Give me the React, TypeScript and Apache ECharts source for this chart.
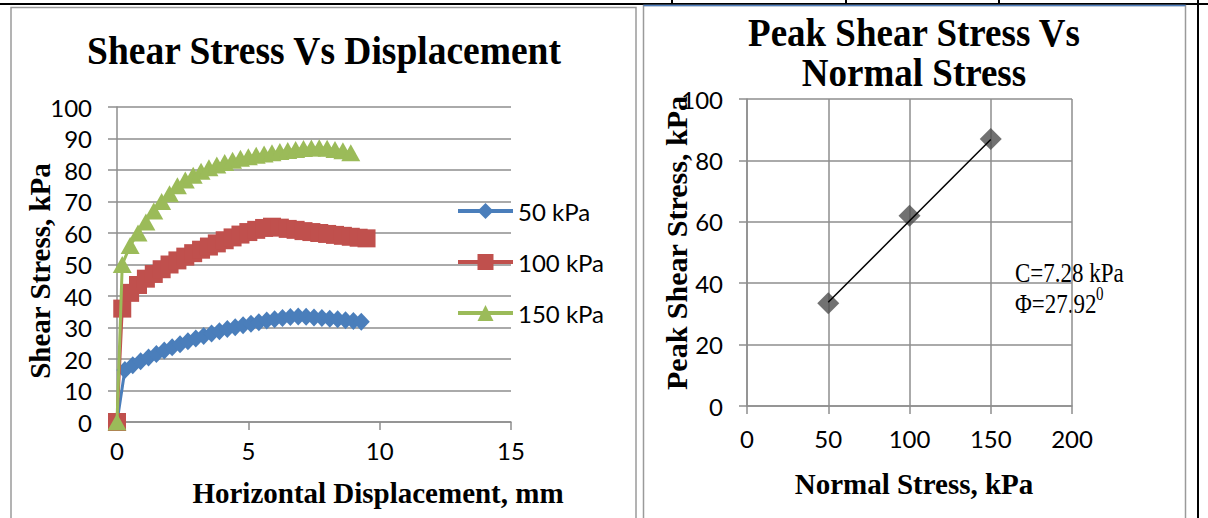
import React, { useEffect, useRef } from "react";
import * as echarts from "echarts";

// ---- Left chart: shear stress vs horizontal displacement ----
const seriesNames = ["50 kPa", "100 kPa", "150 kPa"];

const disp50 = [0, 0.3, 0.6, 0.9, 1.2, 1.5, 1.8, 2.1, 2.4, 2.7, 3.0, 3.3, 3.6, 3.9, 4.2, 4.5, 4.8, 5.1, 5.4, 5.7, 6.0, 6.3, 6.6, 6.9, 7.2, 7.5, 7.8, 8.1, 8.4, 8.7, 9.0, 9.3];
const shear50 = [0, 16.5, 18, 19.3, 20.5, 21.6, 22.7, 23.7, 24.7, 25.6, 26.5, 27.3, 28.1, 28.8, 29.5, 30.1, 30.7, 31.2, 31.7, 32.2, 32.6, 33.0, 33.3, 33.5, 33.4, 33.2, 33.0, 32.8, 32.6, 32.3, 32.1, 31.8];

const disp100 = [0, 0.2, 0.5, 0.8, 1.1, 1.4, 1.7, 2.0, 2.3, 2.6, 2.9, 3.2, 3.5, 3.8, 4.1, 4.4, 4.7, 5.0, 5.3, 5.6, 5.9, 6.2, 6.5, 6.8, 7.1, 7.4, 7.7, 8.0, 8.3, 8.6, 8.9, 9.2, 9.5];
const shear100 = [0, 36, 41, 43.5, 45.5, 47, 48.5, 50, 51.3, 52.5, 53.6, 54.7, 55.7, 56.7, 57.7, 58.6, 59.5, 60.3, 61, 61.6, 62, 61.7, 61.3, 61, 60.6, 60.3, 60, 59.7, 59.4, 59.1, 58.8, 58.5, 58.3];

const disp150 = [0, 0.2, 0.5, 0.8, 1.1, 1.4, 1.7, 2.0, 2.3, 2.6, 2.9, 3.2, 3.5, 3.8, 4.1, 4.4, 4.7, 5.0, 5.3, 5.6, 5.9, 6.2, 6.5, 6.8, 7.1, 7.4, 7.7, 8.0, 8.3, 8.6, 8.9];
const shear150 = [0, 50, 56, 60, 63.5, 67, 70, 72.5, 75, 76.8, 78.3, 79.6, 80.7, 81.6, 82.4, 83.1, 83.7, 84.2, 84.7, 85.1, 85.5, 85.9, 86.2, 86.5, 86.8, 87, 87.1, 86.9, 86.5, 86.1, 85.5];

// ---- Right chart: peak shear stress vs normal stress ----
const normalStress = [50, 100, 150];
const peakShear = [33.5, 62, 87];
const trendNormal = [50, 150];
const trendShear = [33.8, 86.8];

const leftTitle = "Shear Stress Vs Displacement";
const leftXTitle = "Horizontal Displacement, mm";
const leftYTitle = "Shear Stress, kPa";
const rightTitle1 = "Peak Shear Stress Vs";
const rightTitle2 = "Normal Stress";
const rightXTitle = "Normal Stress, kPa";
const rightYTitle = "Peak Shear Stress, kPa";
const cohesionText = "C=7.28 kPa";
const phiText = "Φ=27.92";
const phiSup = "0";

export default function App() {
  const ref = useRef<HTMLDivElement>(null);

  useEffect(() => {
    const chart = echarts.init(ref.current!, null, { renderer: "svg" });
    const zip = (xs: number[], ys: number[]) => xs.map((x, i) => [x, ys[i]]);
    const gridColor = "#8e8e8e";
    const serif = "Liberation Serif";
    const tickFont = { fontFamily: "Lato", fontSize: 24, color: "#000" };
    const axisCommon = {
      axisLine: { show: true, lineStyle: { color: gridColor, width: 1.5 } },
      axisTick: { show: true, length: 8, lineStyle: { color: gridColor, width: 1.5 } },
    };
    const titleText = (text: string, x: number, y: number, size: number, bold: boolean, rotation = 0, align = "center", scaleY = 1) => ({
      type: "text",
      x,
      y,
      rotation,
      scaleY,
      silent: true,
      style: {
        text,
        fill: "#000",
        fontFamily: serif,
        fontSize: size,
        fontWeight: bold ? "bold" : "normal",
        align,
        verticalAlign: "middle",
      },
    });

    const option: any = {
      animation: false,
      backgroundColor: "#fff",
      grid: [
        { left: 117, top: 107, width: 394, height: 315 },
        { left: 747, top: 99, width: 325, height: 307 },
      ],
      xAxis: [
        {
          type: "value", gridIndex: 0, min: 0, max: 15, interval: 5,
          ...axisCommon,
          splitLine: { show: false },
          axisLabel: { ...tickFont, margin: 16 },
        },
        {
          type: "value", gridIndex: 1, min: 0, max: 200, interval: 50,
          ...axisCommon,
          splitLine: { show: true, lineStyle: { color: gridColor, width: 1.5 } },
          axisLabel: { ...tickFont, margin: 20 },
        },
      ],
      yAxis: [
        {
          type: "value", gridIndex: 0, min: 0, max: 100, interval: 10,
          ...axisCommon,
          axisTick: { show: true, length: 9, lineStyle: { color: gridColor, width: 1.5 } },
          splitLine: { show: true, lineStyle: { color: gridColor, width: 1.5 } },
          axisLabel: { ...tickFont, margin: 25 },
        },
        {
          type: "value", gridIndex: 1, min: 0, max: 100, interval: 20,
          ...axisCommon,
          splitLine: { show: true, lineStyle: { color: gridColor, width: 1.5 } },
          axisLabel: { ...tickFont, margin: 24 },
        },
      ],
      legend: {
        orient: "vertical",
        left: 451,
        top: 194,
        itemWidth: 55,
        itemHeight: 20,
        itemGap: 27,
        textStyle: { fontFamily: "Lato", fontSize: 24, color: "#000" },
        lineStyle: { width: 4 },
        data: seriesNames,
        selectedMode: false,
      },
      series: [
        {
          name: seriesNames[0], type: "line", xAxisIndex: 0, yAxisIndex: 0,
          data: zip(disp50, shear50),
          symbol: "diamond", symbolSize: [17, 18],
          lineStyle: { color: "#4a7ebb", width: 3 },
          itemStyle: { color: "#4a7ebb" },
          silent: true, z: 2,
        },
        {
          name: seriesNames[1], type: "line", xAxisIndex: 0, yAxisIndex: 0,
          data: zip(disp100, shear100),
          symbol: "rect", symbolSize: 18,
          lineStyle: { color: "#c0504d", width: 3 },
          itemStyle: { color: "#c0504d" },
          silent: true, z: 3,
        },
        {
          name: seriesNames[2], type: "line", xAxisIndex: 0, yAxisIndex: 0,
          data: zip(disp150, shear150),
          symbol: "triangle", symbolSize: [19, 17],
          lineStyle: { color: "#9bbb59", width: 3 },
          itemStyle: { color: "#9bbb59" },
          silent: true, z: 4,
        },
        {
          name: "Peak", type: "scatter", xAxisIndex: 1, yAxisIndex: 1,
          data: zip(normalStress, peakShear),
          symbol: "diamond", symbolSize: 22,
          itemStyle: { color: "#4d4d4d" },
          silent: true, z: 2,
        },
        {
          name: "Trend", type: "line", xAxisIndex: 1, yAxisIndex: 1,
          data: zip(trendNormal, trendShear),
          symbol: "none",
          lineStyle: { color: "#000", width: 1.5 },
          silent: true, z: 5,
        },
      ],
      graphic: [
        // document table lines
        { type: "line", silent: true, shape: { x1: 0, y1: 4, x2: 1208, y2: 4 }, style: { stroke: "#000", lineWidth: 2 } },
        { type: "line", silent: true, shape: { x1: 672, y1: 0, x2: 672, y2: 4 }, style: { stroke: "#000", lineWidth: 2 } },
        { type: "line", silent: true, shape: { x1: 846, y1: 0, x2: 846, y2: 4 }, style: { stroke: "#000", lineWidth: 2 } },
        { type: "line", silent: true, shape: { x1: 999, y1: 0, x2: 999, y2: 4 }, style: { stroke: "#000", lineWidth: 2 } },
        { type: "line", silent: true, shape: { x1: 1198, y1: 0, x2: 1198, y2: 518 }, style: { stroke: "#000", lineWidth: 2 } },
        // chart frames
        { type: "rect", silent: true, shape: { x: 11, y: 7.5, width: 625, height: 530 }, style: { fill: "none", stroke: "#9a9a9a", lineWidth: 1.5 } },
        { type: "rect", silent: true, shape: { x: 643.5, y: 5.5, width: 542, height: 530 }, style: { fill: "none", stroke: "#9a9a9a", lineWidth: 1.5 } },
        { type: "line", silent: true, shape: { x1: 643.5, y1: 5.5, x2: 1185.5, y2: 5.5 }, style: { stroke: "#4f7fbf", lineWidth: 1.5 } },
        // titles
        titleText(leftTitle, 324, 50, 37.5, true, 0, "center", 1.08),
        titleText(leftXTitle, 378, 493, 29, true, 0, "center", 1.05),
        titleText(leftYTitle, 40, 271, 29, true, Math.PI / 2),
        titleText(rightTitle1, 914, 33, 37, true, 0, "center", 1.08),
        titleText(rightTitle2, 914, 73, 37, true, 0, "center", 1.08),
        titleText(rightXTitle, 914, 484, 29, true, 0, "center", 1.05),
        titleText(rightYTitle, 676, 243, 30, true, Math.PI / 2),
        titleText(cohesionText, 1015, 273, 23, false, 0, "left", 1.22),
        titleText(phiText, 1015, 304, 23, false, 0, "left", 1.22),
        titleText(phiSup, 1096, 294, 15, false, 0, "left", 1.22),
      ],
    };

    chart.setOption(option);
    return () => chart.dispose();
  }, []);

  return (
    <div
      ref={ref}
      style={{ position: "absolute", left: 0, top: 0, width: 1208, height: 518, background: "#fff" }}
    />
  );
}
